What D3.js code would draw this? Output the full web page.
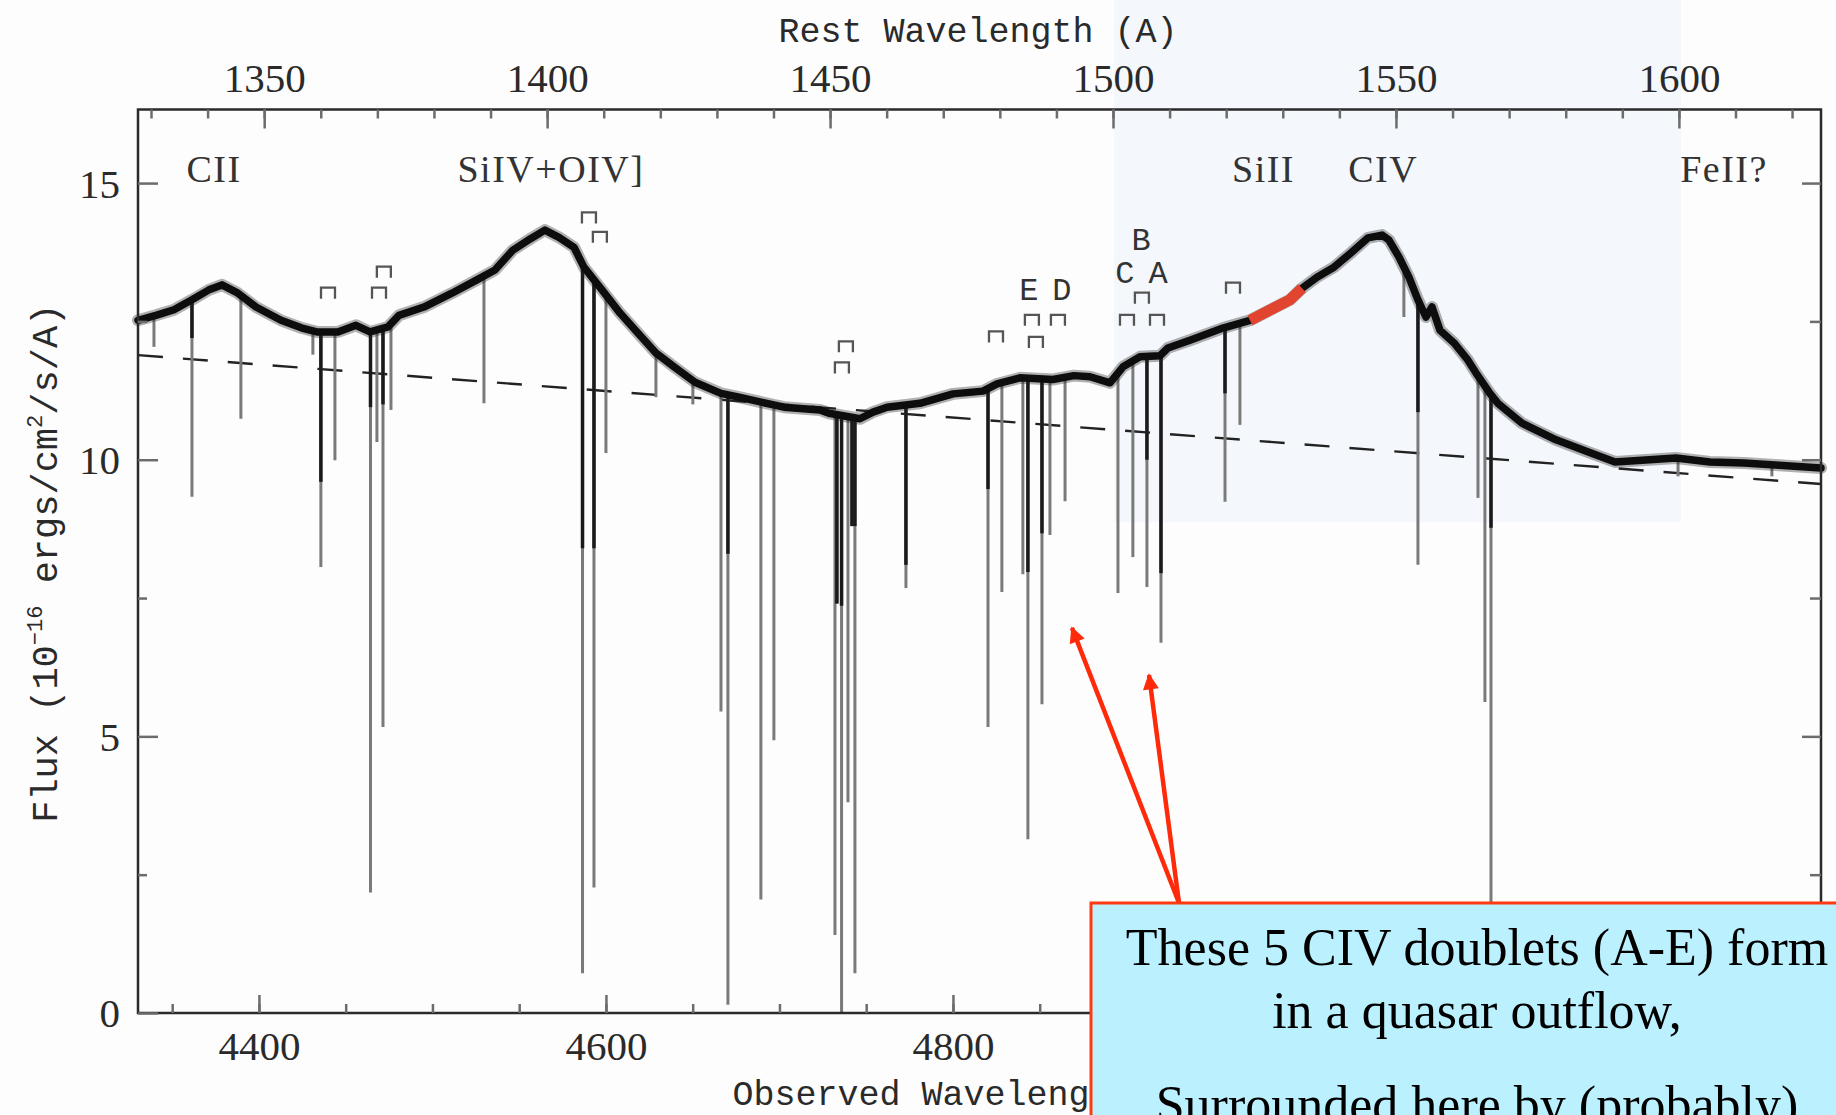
<!DOCTYPE html>
<html>
<head>
<meta charset="utf-8">
<script src="https://cdn.jsdelivr.net/npm/d3@7"></script>
<style>
  html, body { margin: 0; padding: 0; background: #fdfdfd; }
  svg { display: block; }
</style>
</head>
<body>
<svg id="chart" width="1836" height="1115"></svg>
<script>
// ---- Quasar spectrum: observed wavelength (Å) and flux (1e-16 erg/cm²/s/Å) ----
const specWave = [4330.3, 4340.6, 4351.0, 4361.4, 4371.2, 4378.7, 4387.9, 4398.3, 4412.7, 4424.8,
  4433.4, 4445.5, 4455.9, 4464.0, 4474.4, 4480.7, 4495.1, 4511.2, 4525.6, 4536.0,
  4546.4, 4556.8, 4564.8, 4572.9, 4581.6, 4587.3, 4597.7, 4608.1, 4618.4, 4628.8,
  4639.2, 4651.3, 4666.3, 4676.7, 4702.6, 4723.3, 4728.5, 4746.4, 4753.9, 4762.0,
  4781.0, 4800.0, 4817.3, 4825.4, 4838.6, 4857.6, 4869.7, 4879.0, 4890.5, 4898.0,
  4907.8, 4919.3, 4923.9, 4936.6, 4955.6, 4971.2, 4994.2, 5001.2, 5009.8, 5019.6,
  5029.4, 5039.2, 5047.3, 5051.3, 5057.1, 5062.8, 5068.0, 5072.6, 5076.1, 5080.7,
  5088.8, 5096.8, 5101.4, 5109.5, 5114.1, 5127.9, 5147.6, 5167.7, 5181.6, 5197.1,
  5216.7, 5236.3, 5255.9, 5276.1, 5300.3];
const specFlux = [12.52, 12.61, 12.71, 12.89, 13.07, 13.16, 13.01, 12.76, 12.52, 12.38,
  12.31, 12.31, 12.43, 12.31, 12.40, 12.61, 12.76, 13.01, 13.25, 13.43,
  13.79, 14.00, 14.15, 14.02, 13.84, 13.48, 13.07, 12.65, 12.29, 11.93,
  11.68, 11.40, 11.20, 11.13, 10.95, 10.90, 10.84, 10.74, 10.86, 10.95,
  11.02, 11.19, 11.24, 11.37, 11.48, 11.45, 11.52, 11.50, 11.39, 11.68,
  11.86, 11.88, 12.02, 12.16, 12.38, 12.52, 12.89, 13.10, 13.30, 13.48,
  13.74, 14.01, 14.06, 13.97, 13.66, 13.30, 12.89, 12.58, 12.76, 12.34,
  12.11, 11.80, 11.57, 11.20, 11.02, 10.66, 10.36, 10.12, 9.96, 9.99,
  10.03, 9.96, 9.94, 9.90, 9.85];

// ---- Narrow absorption lines: centre, lowest flux, flux where the saturated core ends ----
const absWave = [4339.5, 4361.4, 4389.6, 4431.1, 4435.7, 4443.8, 4464.3, 4468.0, 4471.5, 4476.1,
  4529.7, 4586.5, 4593.1, 4600.0, 4628.8, 4650.1, 4666.3, 4670.3, 4689.3, 4696.8,
  4732.0, 4733.1, 4735.8, 4739.5, 4741.8, 4743.5, 4772.9, 4820.2, 4828.2, 4840.3,
  4843.2, 4851.3, 4855.9, 4864.6, 4895.1, 4903.7, 4911.8, 4919.9, 4956.8, 4965.4,
  5059.9, 5068.0, 5102.6, 5106.6, 5110.1, 5217.9, 5272.0];
const absFloor = [12.04, 9.33, 10.74, 11.9, 8.06, 9.99, 2.18, 10.32, 5.17, 10.9,
  11.02, 0.72, 2.27, 10.12, 11.13, 11.0, 5.45, 0.15, 2.05, 4.93,
  1.41, 7.4, 0.0, 3.81, 8.8, 0.72, 7.68, 5.17, 7.61, 7.93,
  3.14, 5.58, 8.64, 9.25, 7.59, 8.24, 7.70, 6.69, 9.24, 10.63,
  12.58, 8.10, 9.31, 5.62, 1.0, 9.7, 9.7];
const absCore = [null, 12.2, null, null, 9.6, null, 10.95, null, 11.0, null,
  null, 8.4, 8.4, null, null, null, null, 8.3, null, null,
  null, 7.4, 7.36, null, 8.8, 8.8, 8.1, 9.47, null, null,
  7.97, 8.67, null, null, null, null, 10.0, 7.95, 11.2, null,
  null, 10.86, null, null, 8.77, null, null];

// ---- Power-law continuum fit (dashed) ----
const contWave = [4330.3, 5300.3];
const contFlux = [11.89, 9.56];

// ---- Stretch of the spectrum marked in red ----
const highlightRange = [4971.2, 5001.2];

// ---- CIV doublet markers ----
const markWave = [4439.8, 4469.2, 4472.0, 4590.2, 4596.5, 4736.0, 4738.3, 4824.8, 4845.5, 4847.8,
  4860.5, 4900.3, 4908.9, 4917.6, 4961.4];
const markFlux = [13.01, 13.01, 13.39, 14.37, 14.02, 11.66, 12.04, 12.22, 12.52, 12.12,
  12.52, 12.52, 12.92, 12.52, 13.10];

// ---- Outflow component letters ----
const compNames = ["E", "D", "C", "A", "B"];
const compWave = [4843.8, 4862.8, 4899.1, 4918.2, 4908.4];
const compFlux = [12.89, 12.89, 13.19, 13.19, 13.79];

// ---- Emission line identifications ----
const lineNames = ["CII", "SiIV+OIV]", "SiII", "CIV", "FeII?"];
const lineWave = [4374.1, 4568.3, 4979.0, 5048.0, 5244.4];
const lineFlux = 15.02;

// ---- Axes ----
const obsDomain = [4330.3, 5300.3];
const fluxDomain = [0, 16.33];
const redshiftFactor = 3.2615;            // observed / rest wavelength
const obsTicks = [4400, 4600, 4800, 5000, 5200];
const obsTickLabels = ["4400", "4600", "4800", "", ""];   // the last two sit under the note
const obsMinorTicks = d3.range(4350, 5301, 50);
const restTicks = [1350, 1400, 1450, 1500, 1550, 1600];
const restMinorTicks = d3.range(1330, 1630, 10);
const fluxTicks = [0, 5, 10, 15];
const fluxMinorTicks = [2.5, 7.5, 12.5];

// ---- Annotation ----
const arrowTips = [[4868.6, 6.96], [4913.0, 6.11]];
const noteLines = ["These 5 CIV doublets (A-E) form", "in a quasar outflow,", "Surrounded here by (probably)"];

// =====================================================================
const svg = d3.select("#chart");
const frame = { left: 138, right: 1821, top: 109.5, bottom: 1013 };
const serif = "'Liberation Serif', 'Times New Roman', serif";
const mono = "'Liberation Mono', 'Courier New', monospace";

const x = d3.scaleLinear().domain(obsDomain).range([frame.left, frame.right]);
const xRest = d3.scaleLinear()
  .domain(obsDomain.map(d => d / redshiftFactor))
  .range([frame.left, frame.right]);
const y = d3.scaleLinear().domain(fluxDomain).range([frame.bottom, frame.top]);

// page background and the pale panel behind the CIV region
svg.append("rect").attr("width", 1836).attr("height", 1115).attr("fill", "#fdfdfd");
svg.append("rect").attr("x", 1114).attr("y", 0).attr("width", 567).attr("height", 522)
  .attr("fill", "#f4f8fc");

const spectrum = specWave.map((w, i) => [w, specFlux[i]]);
const fluxAt = w => {
  const i = d3.bisector(d => d[0]).right(spectrum, w);
  if (i <= 0) return spectrum[0][1];
  if (i >= spectrum.length) return spectrum[spectrum.length - 1][1];
  const a = spectrum[i - 1], b = spectrum[i];
  return a[1] + (b[1] - a[1]) * (w - a[0]) / (b[0] - a[0]);
};

const plot = svg.append("g");

// dashed continuum
const line = d3.line().x(d => x(d[0])).y(d => y(d[1]));
plot.append("path")
  .datum(contWave.map((w, i) => [w, contFlux[i]]))
  .attr("d", line)
  .attr("fill", "none").attr("stroke", "#222").attr("stroke-width", 2.4)
  .attr("stroke-dasharray", "25,20");

// absorption lines
const absData = absWave.map((w, i) => ({ w, floor: absFloor[i], core: absCore[i], top: fluxAt(w) }));
plot.append("g").selectAll("line").data(absData).join("line")
  .attr("x1", d => x(d.w)).attr("x2", d => x(d.w))
  .attr("y1", d => y(d.top)).attr("y2", d => y(d.floor))
  .attr("stroke", "#7a7a7a").attr("stroke-width", 3);
plot.append("g").selectAll("line").data(absData.filter(d => d.core !== null)).join("line")
  .attr("x1", d => x(d.w)).attr("x2", d => x(d.w))
  .attr("y1", d => y(d.top)).attr("y2", d => y(d.core))
  .attr("stroke", "#1a1a1a").attr("stroke-width", 3.5);

// emission spectrum: a soft outer band for the pixel noise, then the trace itself
plot.append("path").datum(spectrum).attr("d", line)
  .attr("fill", "none").attr("stroke", "#222").attr("stroke-opacity", 0.35)
  .attr("stroke-width", 12)
  .attr("stroke-linejoin", "round").attr("stroke-linecap", "round");
plot.append("path").datum(spectrum).attr("d", line)
  .attr("fill", "none").attr("stroke", "#0d0d0d").attr("stroke-width", 7.5)
  .attr("stroke-linejoin", "round").attr("stroke-linecap", "round");

// red highlighted stretch
plot.append("path")
  .datum(spectrum.filter(d => d[0] >= highlightRange[0] && d[0] <= highlightRange[1]))
  .attr("d", line)
  .attr("fill", "none").attr("stroke", "#e2452f").attr("stroke-width", 11)
  .attr("stroke-linecap", "butt");

// doublet markers
plot.append("g").selectAll("path").data(markWave.map((w, i) => [w, markFlux[i]])).join("path")
  .attr("d", d => `M${x(d[0]) - 7},${y(d[1]) + 5.5}V${y(d[1]) - 5.5}H${x(d[0]) + 7}V${y(d[1]) + 5.5}`)
  .attr("fill", "none").attr("stroke", "#555").attr("stroke-width", 2.3);

// component letters
plot.append("g").selectAll("text").data(compNames).join("text")
  .attr("x", (d, i) => x(compWave[i])).attr("y", (d, i) => y(compFlux[i]))
  .attr("text-anchor", "middle")
  .attr("font-family", mono).attr("font-size", 32).attr("fill", "#333")
  .text(d => d);

// emission line labels
plot.append("g").selectAll("text").data(lineNames).join("text")
  .attr("x", (d, i) => x(lineWave[i])).attr("y", y(lineFlux))
  .attr("text-anchor", "middle")
  .attr("font-family", serif).attr("font-size", 38).attr("letter-spacing", 1.5)
  .attr("fill", "#333")
  .text(d => d);

// frame
svg.append("rect")
  .attr("x", frame.left).attr("y", frame.top)
  .attr("width", frame.right - frame.left).attr("height", frame.bottom - frame.top)
  .attr("fill", "none").attr("stroke", "#2a2a2a").attr("stroke-width", 2.5);

function styleAxis(g) {
  g.select(".domain").remove();
  g.selectAll("line").attr("stroke", "#6c6c6c").attr("stroke-width", 2.5);
  g.attr("font-family", serif).attr("font-size", 41);
  g.selectAll("text").attr("fill", "#2a2a2a");
}

// observed wavelength axis (bottom)
svg.append("g").attr("transform", `translate(0,${frame.bottom})`)
  .call(d3.axisBottom(x).tickValues(obsMinorTicks).tickSize(-9).tickFormat(""))
  .call(styleAxis);
svg.append("g").attr("transform", `translate(0,${frame.bottom})`)
  .call(d3.axisBottom(x).tickValues(obsTicks).tickSize(-18)
    .tickFormat((d, i) => obsTickLabels[i]))
  .call(styleAxis)
  .call(g => g.selectAll("text").attr("y", 47).attr("dy", null));

// rest wavelength axis (top)
svg.append("g").attr("transform", `translate(0,${frame.top})`)
  .call(d3.axisTop(xRest).tickValues(restMinorTicks.filter(v => v >= xRest.domain()[0] && v <= xRest.domain()[1])).tickSize(-9).tickFormat(""))
  .call(styleAxis);
svg.append("g").attr("transform", `translate(0,${frame.top})`)
  .call(d3.axisTop(xRest).tickValues(restTicks).tickSize(-19).tickFormat(d3.format("d")))
  .call(styleAxis)
  .call(g => g.selectAll("text").attr("y", -18).attr("dy", null));

// flux axes (left with labels, right mirrored)
svg.append("g").attr("transform", `translate(${frame.left},0)`)
  .call(d3.axisLeft(y).tickValues(fluxMinorTicks).tickSize(-9).tickFormat(""))
  .call(styleAxis);
svg.append("g").attr("transform", `translate(${frame.left},0)`)
  .call(d3.axisLeft(y).tickValues(fluxTicks).tickSize(-20).tickFormat(d3.format("d")))
  .call(styleAxis)
  .call(g => g.selectAll("text").attr("x", -18).attr("dy", "0.34em"));
svg.append("g").attr("transform", `translate(${frame.right},0)`)
  .call(d3.axisRight(y).tickValues(fluxMinorTicks).tickSize(-11).tickFormat(""))
  .call(styleAxis);
svg.append("g").attr("transform", `translate(${frame.right},0)`)
  .call(d3.axisRight(y).tickValues(fluxTicks).tickSize(-19).tickFormat(""))
  .call(styleAxis);

// axis titles
svg.append("text").attr("x", 978).attr("y", 42).attr("text-anchor", "middle")
  .attr("font-family", mono).attr("font-size", 35).attr("fill", "#2a2a2a")
  .text("Rest Wavelength (A)");
svg.append("text").attr("x", 974).attr("y", 1105).attr("text-anchor", "middle")
  .attr("font-family", mono).attr("font-size", 35).attr("fill", "#2a2a2a")
  .text("Observed Wavelength (A)");
const yTitle = svg.append("text")
  .attr("transform", `translate(57,${(frame.top + frame.bottom) / 2 + 2}) rotate(-90)`)
  .attr("text-anchor", "middle")
  .attr("font-family", mono).attr("font-size", 37).attr("fill", "#2a2a2a");
yTitle.append("tspan").text("Flux (10");
yTitle.append("tspan").attr("dy", -15).attr("font-size", 22).text("−16");
yTitle.append("tspan").attr("dy", 15).text(" ergs/cm");
yTitle.append("tspan").attr("dy", -15).attr("font-size", 22).text("2");
yTitle.append("tspan").attr("dy", 15).text("/s/A)");

// annotation box with arrows
const box = { left: 1091, top: 903 };
const arrowBase = [1179, box.top];
const defs = svg.append("defs");
defs.append("marker").attr("id", "head")
  .attr("viewBox", "0 0 10 10").attr("refX", 9).attr("refY", 5)
  .attr("markerWidth", 18).attr("markerHeight", 16)
  .attr("markerUnits", "userSpaceOnUse").attr("orient", "auto")
  .append("path").attr("d", "M0,0L10,5L0,10Z").attr("fill", "#ff2a0a");
svg.append("g").selectAll("line").data(arrowTips).join("line")
  .attr("x1", arrowBase[0]).attr("y1", arrowBase[1])
  .attr("x2", d => x(d[0])).attr("y2", d => y(d[1]))
  .attr("stroke", "#ff2a0a").attr("stroke-width", 4.5)
  .attr("marker-end", "url(#head)");

svg.append("rect")
  .attr("x", box.left).attr("y", box.top).attr("width", 800).attr("height", 300)
  .attr("fill", "#bbf0ff").attr("stroke", "#ff3a12").attr("stroke-width", 3);
const noteBaselines = [965, 1028, 1122];
svg.append("g").selectAll("text").data(noteLines).join("text")
  .attr("x", 1477).attr("y", (d, i) => noteBaselines[i])
  .attr("text-anchor", "middle")
  .attr("font-family", serif).attr("font-size", 52).attr("fill", "#000")
  .text(d => d);
</script>
</body>
</html>
